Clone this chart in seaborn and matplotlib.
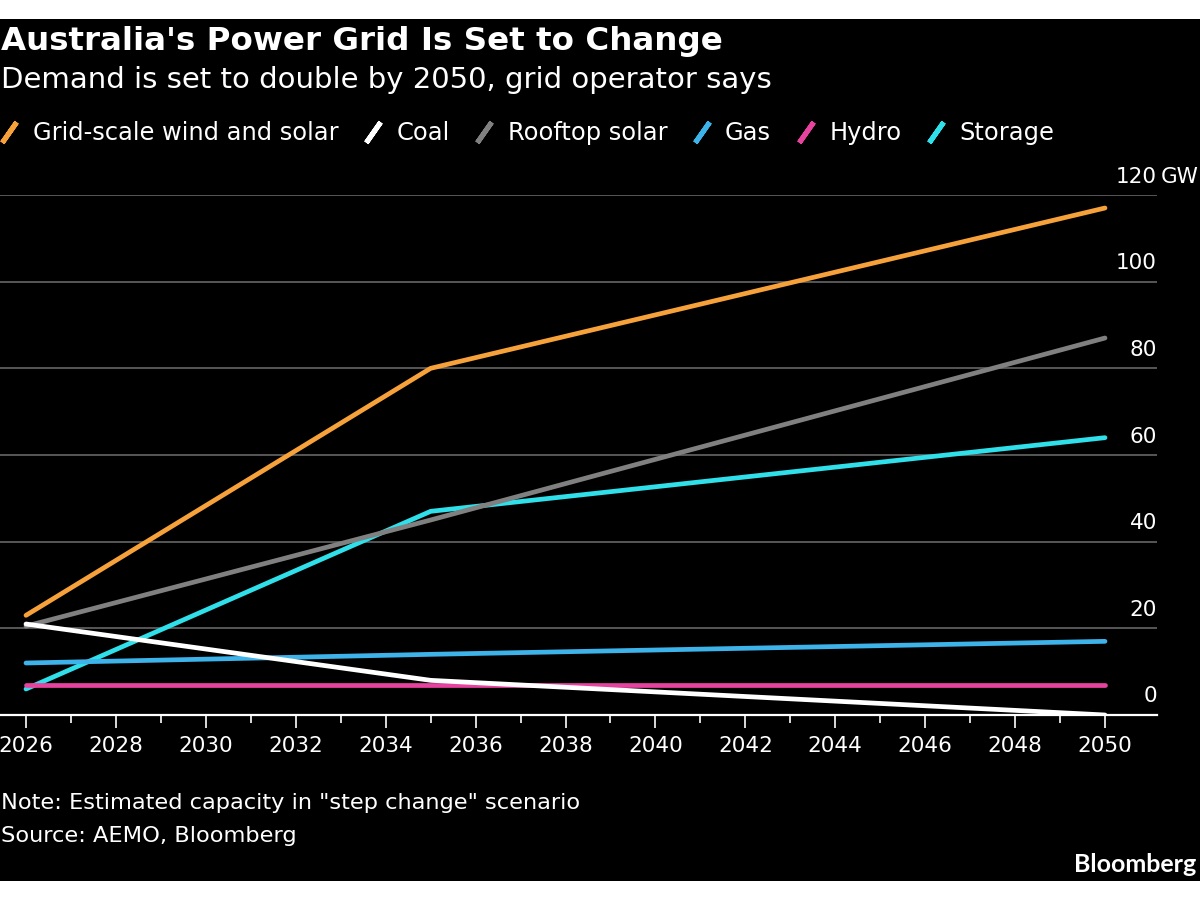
import pandas as pd
import matplotlib.pyplot as plt
import seaborn as sns
from matplotlib.lines import Line2D
from matplotlib.patches import Rectangle
from matplotlib.ticker import MultipleLocator, FixedLocator

years = [2026, 2035, 2050]
grid_scale = [23, 80, 117]
coal = [21, 8, 0]
rooftop = [20.5, 45, 87]
gas = [12, 14, 17]
hydro = [7, 7, 7]
storage = [6, 47, 64]

series = ['Grid-scale wind and solar', 'Coal', 'Rooftop solar', 'Gas', 'Hydro', 'Storage']
colors = ['#f7a13a', '#ffffff', '#808080', '#3db3ea', '#e6439f', '#2fe0ea']
y_ticks = [0, 20, 40, 60, 80, 100, 120]

df = pd.DataFrame({'year': years * 6,
                   'gw': grid_scale + coal + rooftop + gas + hydro + storage,
                   'series': [s for s in series for _ in years]})

sns.set_style('dark')
plt.rcParams['font.family'] = ['DejaVu Sans']

fig = plt.figure(figsize=(12, 9), dpi=100, facecolor='white')
fig.patches.append(Rectangle((0, 19 / 900), 1, 862 / 900, transform=fig.transFigure,
                             facecolor='black', edgecolor='none', zorder=-10))

ax = fig.add_axes([0, 185 / 900, 1157 / 1200, 520 / 900])
ax.set_facecolor('black')

# draw in reverse so the first series sits on top
sns.lineplot(data=df, x='year', y='gw', hue='series', hue_order=series[::-1],
             palette=dict(zip(series, colors)), linewidth=3.4, legend=False, ax=ax)

ax.set_xlim(2026 - 26 / 44.96, 2050 + 52 / 44.96)
ax.set_ylim(0, 120)
ax.set_xlabel('')
ax.set_ylabel('')

for s in ['top', 'left', 'right']:
    ax.spines[s].set_visible(False)
ax.spines['bottom'].set_color('white')
ax.spines['bottom'].set_linewidth(1.6)
ax.spines['bottom'].set_zorder(1)

ax.xaxis.set_major_locator(MultipleLocator(2))
ax.xaxis.set_minor_locator(FixedLocator(range(2027, 2050, 2)))
ax.tick_params(axis='x', which='major', colors='white', length=9, width=1.2,
               pad=6, labelsize=15.5, labelcolor='white', bottom=True, direction='out')
ax.tick_params(axis='x', which='minor', colors='white', length=6, width=1.2, bottom=True)

ax.set_yticks(y_ticks)
ax.set_yticklabels([])
ax.tick_params(axis='y', length=0)
ax.grid(axis='y', color='#666666', linewidth=1.2)
ax.grid(axis='x', visible=False)
ax.set_axisbelow(True)

for v in y_ticks:
    ax.annotate(str(v), xy=(1, v), xycoords=('axes fraction', 'data'), xytext=(0, 9),
                textcoords='offset points', ha='right', va='baseline', color='white', fontsize=15.5)
ax.annotate('GW', xy=(1, 120), xycoords=('axes fraction', 'data'), xytext=(3, 9),
            textcoords='offset points', ha='left', va='baseline', color='white', fontsize=15.5,
            annotation_clip=False)

fig.text(0.001, 1 - 50 / 900, "Australia's Power Grid Is Set to Change", color='white',
         fontsize=23.4, fontweight='bold', va='baseline')
fig.text(0.001, 1 - 88 / 900, 'Demand is set to double by 2050, grid operator says', color='white',
         fontsize=21, va='baseline')

handles = [Line2D([], [], color=c, marker=(2, 2, -35), linestyle='none', markersize=18,
                  markeredgewidth=3.6) for c in colors]
leg = fig.legend(handles, series, loc='center left', bbox_to_anchor=(0, 1 - 133 / 900),
                 ncol=6, frameon=False, fontsize=17.4, handlelength=0.75, handletextpad=0.6,
                 columnspacing=1.05, borderpad=0, borderaxespad=0)
for t in leg.get_texts():
    t.set_color('white')

fig.text(0.001, 1 - 809 / 900, 'Note: Estimated capacity in "step change" scenario', color='white',
         fontsize=16.2, va='baseline')
fig.text(0.001, 1 - 842 / 900, 'Source: AEMO, Bloomberg', color='white', fontsize=16.2, va='baseline')
fig.text(0.997, 1 - 872 / 900, 'Bloomberg', color='white', fontsize=18, fontweight='bold',
         ha='right', va='baseline', family=['Lato', 'DejaVu Sans'])

fig.savefig('out.png', dpi=100, facecolor='white')
